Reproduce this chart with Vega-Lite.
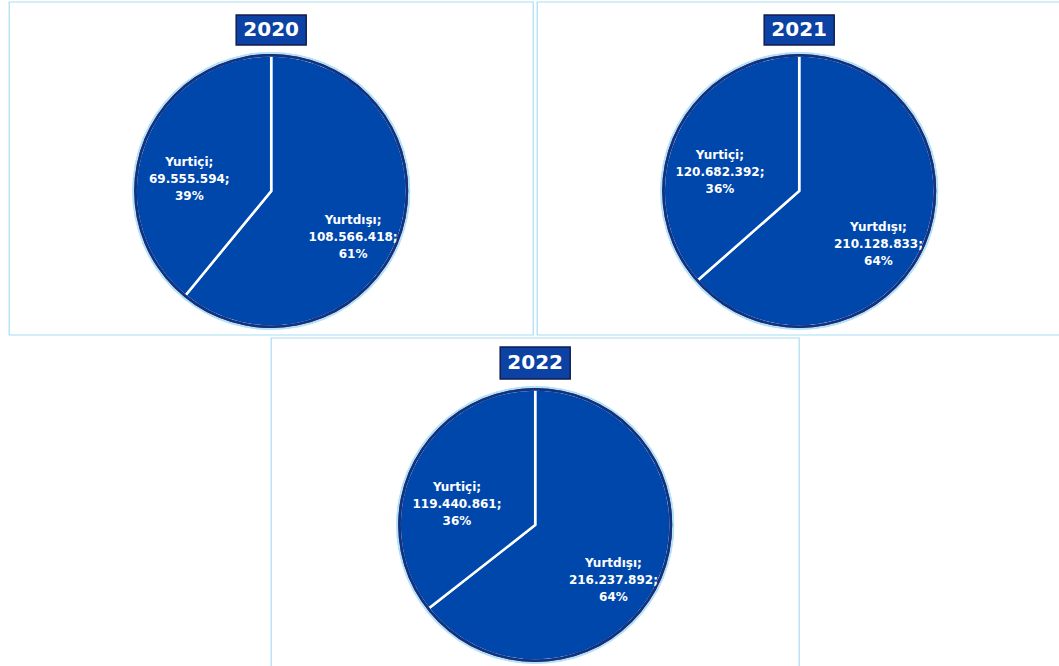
{
  "$schema": "https://vega.github.io/schema/vega-lite/v6.json",
  "padding": {"left": 8, "top": 1, "right": 0, "bottom": 0},
  "background": "white",
  "data": {"values": [
    {"year": "2020", "name": "Yurtdışı", "value": 108566418},
    {"year": "2020", "name": "Yurtiçi", "value": 69555594},
    {"year": "2021", "name": "Yurtdışı", "value": 210128833},
    {"year": "2021", "name": "Yurtiçi", "value": 120682392},
    {"year": "2022", "name": "Yurtdışı", "value": 216237892},
    {"year": "2022", "name": "Yurtiçi", "value": 119440861}
  ]},
  "transform": [
    {"joinaggregate": [{"op": "sum", "field": "value", "as": "total"}], "groupby": ["year"]},
    {"calculate": "datum.value / datum.total", "as": "pct"},
    {"calculate": "[datum.name + ';', replace(format(datum.value, ','), /,/g, '.') + ';', format(datum.pct, '.0%')]", "as": "label"}
  ],
  "vconcat": [
    {
      "hconcat": [
        {
          "width": 524, "height": 333,
          "transform": [{"filter": "datum.year === '2020'"}],
          "layer": [
            {"transform": [{"filter": "datum.name === 'Yurtiçi'"}], "mark": {"type": "rect", "fill": "transparent", "stroke": "#a9def3", "strokeWidth": 1.2}, "encoding": {}},
            {"mark": {"type": "arc", "radius": 139, "theta": 0, "theta2": 6.2832, "fill": "#b3e2f5", "y": 189}, "encoding": {}},
            {"mark": {"type": "arc", "radius": 135.5, "fill": "#0047ab", "stroke": "white", "strokeWidth": 2.5, "y": 189}, "encoding": {"theta": {"field": "value", "type": "quantitative", "stack": true}, "order": {"field": "name", "sort": "ascending"}}},
            {"mark": {"type": "arc", "radius": 137, "radius2": 134.5, "theta": 0, "theta2": 6.2832, "fill": "#15307e", "y": 189}, "encoding": {}},
            {"mark": {"type": "text", "radius": 87, "y": 189, "font": "DejaVu Sans", "fontWeight": "bold", "fontSize": 12, "lineHeight": 17, "color": "white", "align": "center", "baseline": "middle"}, "encoding": {"theta": {"field": "value", "type": "quantitative", "stack": true}, "order": {"field": "name", "sort": "ascending"}, "text": {"field": "label"}}},
            {"transform": [{"filter": "datum.name === 'Yurtiçi'"}], "mark": {"type": "rect", "x": 227, "x2": 297, "y": 13, "y2": 43, "fill": "#0b42a3", "stroke": "#101c50", "strokeWidth": 1.5}, "encoding": {}},
            {"transform": [{"filter": "datum.name === 'Yurtiçi'"}], "mark": {"type": "text", "y": 28, "font": "DejaVu Sans", "fontWeight": "bold", "fontSize": 20, "color": "white", "align": "center", "baseline": "middle"}, "encoding": {"text": {"field": "year"}}}
          ]
        },
        {
          "width": 524, "height": 333,
          "transform": [{"filter": "datum.year === '2021'"}],
          "layer": [
            {"transform": [{"filter": "datum.name === 'Yurtiçi'"}], "mark": {"type": "rect", "fill": "transparent", "stroke": "#a9def3", "strokeWidth": 1.2}, "encoding": {}},
            {"mark": {"type": "arc", "radius": 139, "theta": 0, "theta2": 6.2832, "fill": "#b3e2f5", "y": 189}, "encoding": {}},
            {"mark": {"type": "arc", "radius": 135.5, "fill": "#0047ab", "stroke": "white", "strokeWidth": 2.5, "y": 189}, "encoding": {"theta": {"field": "value", "type": "quantitative", "stack": true}, "order": {"field": "name", "sort": "ascending"}}},
            {"mark": {"type": "arc", "radius": 137, "radius2": 134.5, "theta": 0, "theta2": 6.2832, "fill": "#15307e", "y": 189}, "encoding": {}},
            {"mark": {"type": "text", "radius": 87, "y": 189, "font": "DejaVu Sans", "fontWeight": "bold", "fontSize": 12, "lineHeight": 17, "color": "white", "align": "center", "baseline": "middle"}, "encoding": {"theta": {"field": "value", "type": "quantitative", "stack": true}, "order": {"field": "name", "sort": "ascending"}, "text": {"field": "label"}}},
            {"transform": [{"filter": "datum.name === 'Yurtiçi'"}], "mark": {"type": "rect", "x": 227, "x2": 297, "y": 13, "y2": 43, "fill": "#0b42a3", "stroke": "#101c50", "strokeWidth": 1.5}, "encoding": {}},
            {"transform": [{"filter": "datum.name === 'Yurtiçi'"}], "mark": {"type": "text", "y": 28, "font": "DejaVu Sans", "fontWeight": "bold", "fontSize": 20, "color": "white", "align": "center", "baseline": "middle"}, "encoding": {"text": {"field": "year"}}}
          ]
        }
      ],
      "spacing": 2
    },
    {
      "width": 528, "height": 331,
      "transform": [{"filter": "datum.year === '2022'"}],
      "layer": [
        {"transform": [{"filter": "datum.name === 'Yurtiçi'"}], "mark": {"type": "rect", "fill": "transparent", "stroke": "#a9def3", "strokeWidth": 1.2}, "encoding": {}},
        {"mark": {"type": "arc", "radius": 139, "theta": 0, "theta2": 6.2832, "fill": "#b3e2f5", "y": 187}, "encoding": {}},
        {"mark": {"type": "arc", "radius": 135.5, "fill": "#0047ab", "stroke": "white", "strokeWidth": 2.5, "y": 187}, "encoding": {"theta": {"field": "value", "type": "quantitative", "stack": true}, "order": {"field": "name", "sort": "ascending"}}},
        {"mark": {"type": "arc", "radius": 137, "radius2": 134.5, "theta": 0, "theta2": 6.2832, "fill": "#15307e", "y": 187}, "encoding": {}},
        {"mark": {"type": "text", "radius": 87, "y": 187, "font": "DejaVu Sans", "fontWeight": "bold", "fontSize": 12, "lineHeight": 17, "color": "white", "align": "center", "baseline": "middle"}, "encoding": {"theta": {"field": "value", "type": "quantitative", "stack": true}, "order": {"field": "name", "sort": "ascending"}, "text": {"field": "label"}}},
        {"transform": [{"filter": "datum.name === 'Yurtiçi'"}], "mark": {"type": "rect", "x": 229, "x2": 299, "y": 9, "y2": 41, "fill": "#0b42a3", "stroke": "#101c50", "strokeWidth": 1.5}, "encoding": {}},
        {"transform": [{"filter": "datum.name === 'Yurtiçi'"}], "mark": {"type": "text", "y": 25, "font": "DejaVu Sans", "fontWeight": "bold", "fontSize": 20, "color": "white", "align": "center", "baseline": "middle"}, "encoding": {"text": {"field": "year"}}}
      ]
    }
  ],
  "spacing": 1,
  "center": true
}
